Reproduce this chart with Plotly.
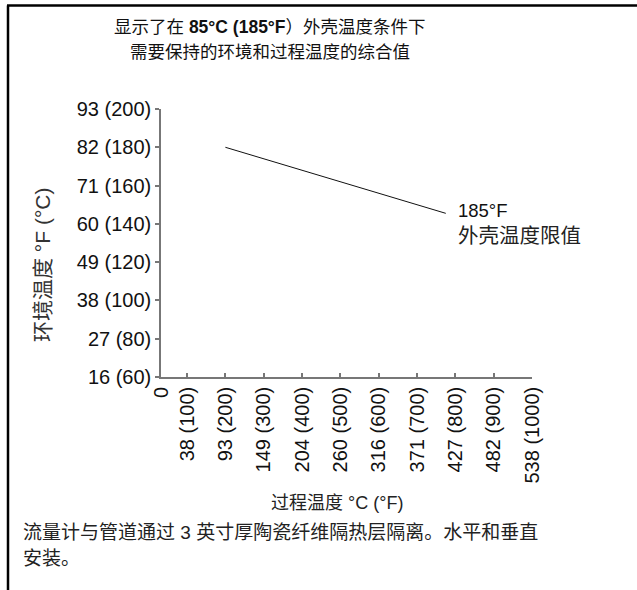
import plotly.graph_objects as go

# ---- data ----
x_tick_vals = [32, 100, 200, 300, 400, 500, 600, 700, 800, 900, 1000]
x_tick_text = ["0", "38 (100)", "93 (200)", "149 (300)", "204 (400)", "260 (500)",
               "316 (600)", "371 (700)", "427 (800)", "482 (900)", "538 (1000)"]
y_tick_vals = [60, 80, 100, 120, 140, 160, 180, 200]
y_tick_text = ["16 (60)", "27 (80)", "38 (100)", "49 (120)", "60 (140)",
               "71 (160)", "82 (180)", "93 (200)"]
limit_process_f = [200, 775]
limit_ambient_f = [180, 145.5]

title_line1 = "显示了在 <b>85°C (185°F</b>）外壳温度条件下"
title_line2 = "需要保持的环境和过程温度的综合值"
x_title = "过程温度 °C (°F)"
y_title = "环境温度 °F (°C)"
limit_label1 = "185°F"
limit_label2 = "外壳温度限值"
note_line1 = "流量计与管道通过 3 英寸厚陶瓷纤维隔热层隔离。水平和垂直"
note_line2 = "安装。"

# ---- layout geometry (pixels) ----
W, H = 637, 590
L, R, T, B = 161, 532, 109, 377


def px(x):
    return (x - L) / (R - L)


def py(y):
    return (B - y) / (B - T)


FONT = "Liberation Sans, Arial, Noto Sans CJK SC, sans-serif"

fig = go.Figure()
fig.add_trace(go.Scatter(
    x=limit_process_f, y=limit_ambient_f, mode="lines",
    line=dict(color="#111111", width=1), hoverinfo="skip", showlegend=False,
))

axis_common = dict(showgrid=False, zeroline=False, showline=True,
                   linecolor="#777777", linewidth=1.5, tickcolor="#777777",
                   tickwidth=1.5, ticklen=4, tickmode="array",
                   tickfont=dict(family=FONT, size=20, color="#111111"))

fig.update_xaxes(range=[32, 1000], tickvals=x_tick_vals, ticktext=x_tick_text,
                 ticks="inside", tickangle=-90, **axis_common)
fig.update_yaxes(range=[60, 200], tickvals=y_tick_vals, ticktext=y_tick_text,
                 ticks="outside", **axis_common)

ann = []


def add(text, x, y, xanchor="center", size=18, angle=0, color="#111111"):
    ann.append(dict(text=text, xref="paper", yref="paper", x=px(x), y=py(y),
                    xanchor=xanchor, yanchor="middle", showarrow=False,
                    textangle=angle,
                    font=dict(family=FONT, size=size, color=color)))


add(title_line1, 270, 27, size=17.5)
add(title_line2, 270, 52, size=17.5)
add(y_title, 42, 265, size=21, angle=-90, color="#333333")
add(x_title, 337, 503, size=18, color="#222222")
add(limit_label1, 456, 210, xanchor="left", size=18.5)
add(limit_label2, 456, 235, xanchor="left", size=20.5, color="#222222")
add(note_line1, 21, 532, xanchor="left", size=19, color="#222222")
add(note_line2, 21, 558, xanchor="left", size=19, color="#222222")

shapes = [
    dict(type="line", xref="paper", yref="paper", x0=px(8), x1=px(8),
         y0=py(5.5), y1=py(592), line=dict(color="black", width=2.5)),
    dict(type="line", xref="paper", yref="paper", x0=px(7), x1=px(640),
         y0=py(5.5), y1=py(5.5), line=dict(color="black", width=2.5)),
]

fig.update_layout(
    width=W, height=H, autosize=False,
    margin=dict(l=L, r=W - R, t=T, b=H - B, pad=0),
    paper_bgcolor="white", plot_bgcolor="white",
    showlegend=False, annotations=ann, shapes=shapes,
    font=dict(family=FONT, color="#111111"),
)

fig.write_html("out.html", config={"displayModeBar": False},
               post_script="document.body.style.margin='0';")
